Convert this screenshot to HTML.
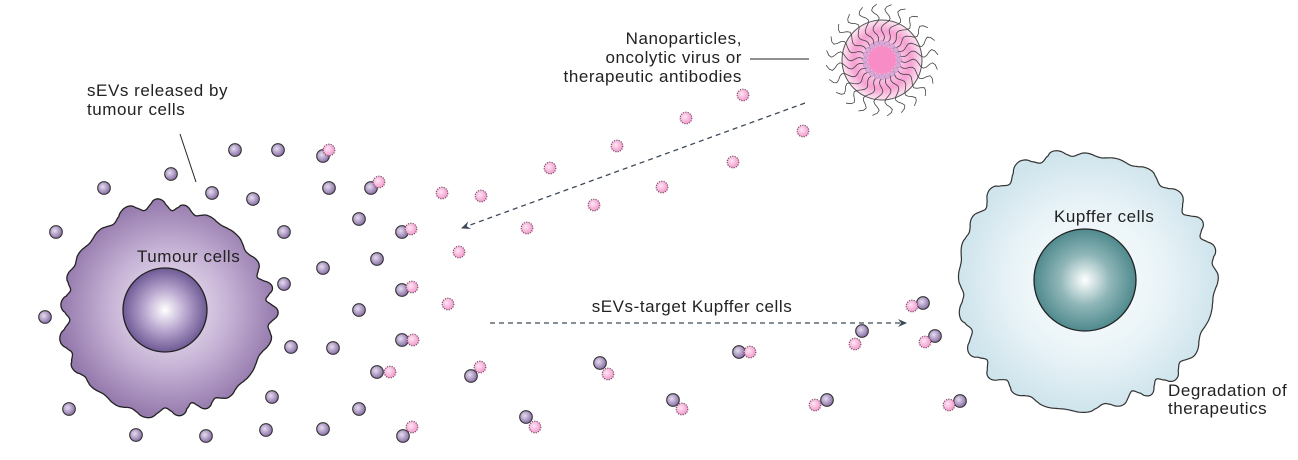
<!DOCTYPE html>
<html><head><meta charset="utf-8"><style>
html,body{margin:0;padding:0;background:#fff;}
svg{display:block;font-family:"Liberation Sans",sans-serif;}
svg text{font-size:17px;letter-spacing:0.55px;fill:#222;}
</style></head><body>
<svg id="s" width="1298" height="460" viewBox="0 0 1298 460" xmlns="http://www.w3.org/2000/svg">
<defs>
<radialGradient id="tc" cx="50%" cy="50%" r="50%"><stop offset="0" stop-color="#f4eef7"/><stop offset="0.55" stop-color="#c6b2d5"/><stop offset="1" stop-color="#9479ac"/></radialGradient>
<radialGradient id="tn" cx="50%" cy="50%" r="50%"><stop offset="0" stop-color="#ffffff"/><stop offset="0.5" stop-color="#b9a6cf"/><stop offset="1" stop-color="#6e5a94"/></radialGradient>
<radialGradient id="kc" cx="50%" cy="50%" r="50%"><stop offset="0" stop-color="#ffffff"/><stop offset="0.6" stop-color="#e8f3f7"/><stop offset="1" stop-color="#cfe4ec"/></radialGradient>
<radialGradient id="kn" cx="50%" cy="50%" r="50%"><stop offset="0" stop-color="#ffffff"/><stop offset="0.5" stop-color="#8fb6b8"/><stop offset="1" stop-color="#4f8a8e"/></radialGradient>
<radialGradient id="pd" cx="40%" cy="40%" r="60%"><stop offset="0" stop-color="#e6ddef"/><stop offset="1" stop-color="#8a70a8"/></radialGradient>
<radialGradient id="pk" cx="40%" cy="40%" r="60%"><stop offset="0" stop-color="#ffe6f4"/><stop offset="1" stop-color="#f29ccd"/></radialGradient>
<radialGradient id="npg" cx="50%" cy="50%" r="50%"><stop offset="0" stop-color="#f78cc6"/><stop offset="0.45" stop-color="#fbc4e4"/><stop offset="0.72" stop-color="#f7a0d2"/><stop offset="1" stop-color="#fde6f2"/></radialGradient>
<marker id="ah" markerWidth="10" markerHeight="10" refX="8" refY="5" orient="auto" markerUnits="userSpaceOnUse"><path d="M0,1 L9,5 L0,9 L3,5 Z" fill="#3d4a58"/></marker>
</defs>
<path id="tumour" fill="url(#tc)" stroke="#222" stroke-width="1.3"/>
<circle cx="165" cy="310" r="42" fill="url(#tn)" stroke="#222" stroke-width="1.3"/>
<text x="137" y="262">Tumour cells</text>
<path id="kup" fill="url(#kc)" stroke="#333" stroke-width="1.2"/>
<circle cx="1085" cy="280" r="51" fill="url(#kn)" stroke="#222" stroke-width="1.3"/>
<text x="1054" y="222">Kupffer cells</text>
<text x="1168" y="396">Degradation of</text>
<text x="1168" y="414">therapeutics</text>
<text x="87" y="96">sEVs released by</text>
<text x="87" y="115">tumour cells</text>
<line x1="180" y1="134" x2="196" y2="182" stroke="#222" stroke-width="1"/>
<text x="742" y="44" text-anchor="end">Nanoparticles,</text>
<text x="742" y="63" text-anchor="end">oncolytic virus or</text>
<text x="742" y="82" text-anchor="end">therapeutic antibodies</text>
<line x1="750" y1="59" x2="809" y2="59" stroke="#222" stroke-width="1"/>
<g id="npgrp"></g>
<line x1="805" y1="103" x2="462" y2="228" stroke="#3d4a58" stroke-width="1.3" stroke-dasharray="5,4" marker-end="url(#ah)"/>
<line x1="490" y1="323" x2="906" y2="323" stroke="#3d4a58" stroke-width="1.3" stroke-dasharray="5,4" marker-end="url(#ah)"/>
<text x="692" y="312" text-anchor="middle">sEVs-target Kupffer cells</text>
<g id="dots"></g>
</svg>
<script>
function wavy(cx,cy,r,n,amp,seed){var d="";var N=420;for(var i=0;i<=N;i++){var a=i/N*2*Math.PI;var ph=a*n+seed+0.8*Math.sin(a*5+seed);var s=Math.sin(ph);var rr=r+amp*(s>0?Math.pow(s,0.6):-Math.pow(-s,1.6))*(0.7+0.5*Math.sin(a*4+seed*3))+2.5*Math.sin(a*3+seed)+1.5*Math.sin(a*7+seed*2);var x=cx+rr*Math.cos(a),y=cy+rr*Math.sin(a);d+=(i?"L":"M")+x.toFixed(1)+","+y.toFixed(1);}return d+"Z";}
document.getElementById("tumour").setAttribute("d",wavy(166,311,104,22,4.5,0.7));
document.getElementById("kup").setAttribute("d",wavy(1085,282,128,24,5,1.3));
var ns="http://www.w3.org/2000/svg";
function c(g,x,y,r,f,st,dash){var e=document.createElementNS(ns,"circle");e.setAttribute("cx",x);e.setAttribute("cy",y);e.setAttribute("r",r);e.setAttribute("fill",f);e.setAttribute("stroke",st);e.setAttribute("stroke-width",dash?"1.2":"1.1");if(dash)e.setAttribute("stroke-dasharray","1.2,1.2");g.appendChild(e);}
var g=document.getElementById("dots");
var P=[[235,150],[278,150],[171,174],[104,188],[212,193],[253,199],[329,188],[359,219],[56,232],[284,232],[377,259],[323,268],[284,284],[359,310],[45,317],[291,347],[333,348],[272,397],[359,409],[69,409],[136,435],[206,436],[266,430],[323,429]];
var K=[[442,193],[459,252],[448,304],[743,95],[686,118],[617,146],[550,168],[481,196],[662,187],[733,162],[803,131],[594,205],[527,228]];
var pairs=[[[323,156],[329,150]],[[371,188],[379,182]],[[402,232],[411,229]],[[402,290],[412,287]],[[402,340],[413,340]],[[377,372],[390,372]],[[471,376],[480,367]],[[403,436],[412,427]],[[600,363],[608,374]],[[526,417],[535,427]],[[673,400],[682,409]],[[739,352],[750,352]],[[862,331],[855,344]],[[827,400],[815,405]],[[923,303],[912,306]],[[935,336],[925,342]],[[960,401],[949,405]]];
P.forEach(function(p){c(g,p[0],p[1],6.3,"url(#pd)","#333");});
K.forEach(function(p){c(g,p[0],p[1],5.8,"url(#pk)","#7a4a66",true);});
pairs.forEach(function(q){c(g,q[0][0],q[0][1],6.3,"url(#pd)","#333");c(g,q[1][0],q[1][1],5.8,"url(#pk)","#7a4a66",true);});
var n=document.getElementById("npgrp");var cx=882,cy=60;
var b=document.createElementNS(ns,"circle");b.setAttribute("cx",cx);b.setAttribute("cy",cy);b.setAttribute("r",40);b.setAttribute("fill","url(#npg)");b.setAttribute("stroke","#555");b.setAttribute("stroke-width","1");n.appendChild(b);
for(var i=0;i<24;i++){var a=i/24*2*Math.PI;var d="";
 for(var t=0;t<=14;t++){var rr=17+t*2.8;var aa=a+0.09*Math.sin(t*0.9)+t*0.012;d+=(t?"L":"M")+(cx+rr*Math.cos(aa)).toFixed(1)+","+(cy+rr*Math.sin(aa)).toFixed(1);}
 var p=document.createElementNS(ns,"path");p.setAttribute("d",d);p.setAttribute("fill","none");p.setAttribute("stroke","#444");p.setAttribute("stroke-width","0.8");n.appendChild(p);}
for(var i=0;i<20;i++){var a=i/20*2*Math.PI;var e=document.createElementNS(ns,"circle");e.setAttribute("cx",cx+17*Math.cos(a));e.setAttribute("cy",cy+17*Math.sin(a));e.setAttribute("r",2.6);e.setAttribute("fill","#d9a8d6");e.setAttribute("stroke","#b48ab8");e.setAttribute("stroke-width","0.5");n.appendChild(e);}
var ci=document.createElementNS(ns,"circle");ci.setAttribute("cx",cx);ci.setAttribute("cy",cy);ci.setAttribute("r",14);ci.setAttribute("fill","#f78cc6");n.appendChild(ci);
</script>
</body></html>
